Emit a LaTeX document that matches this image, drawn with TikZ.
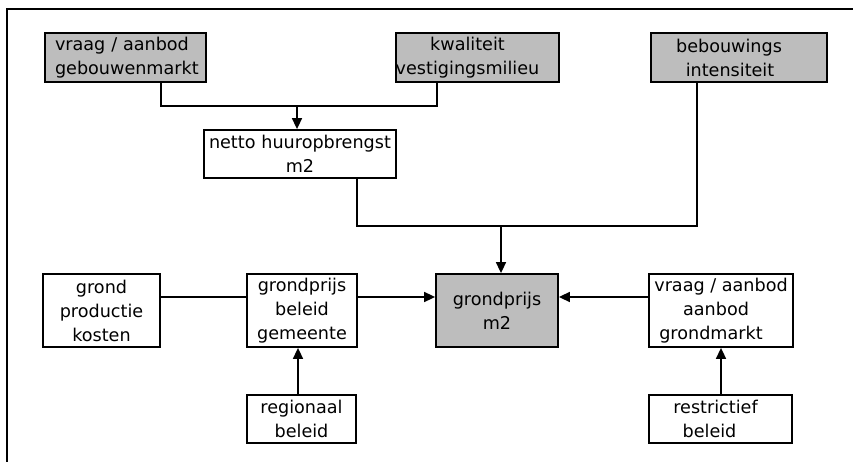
\documentclass[tikz,border=0pt]{standalone}
\usepackage{fontspec}
\setmainfont{DejaVu Sans}
\usetikzlibrary{arrows.meta}
\tikzset{
  box/.style={draw=black, line width=1.8pt, rectangle, inner sep=0pt, align=center,
    font=\fontsize{17.6}{24}\selectfont},
  shaded/.style={box, fill=black!26},
  conn/.style={line width=1.6pt},
  arr/.style={conn, -{Triangle[length=11pt,width=10pt]}},
  frameline/.style={line width=1.8pt}
}
\begin{document}
\begin{tikzpicture}[x=1pt,y=-1pt]
\useasboundingbox (0,0) rectangle (853,462);
% frame
\coordinate (f0) at (7,9);
\coordinate (f1) at (853,9);
\coordinate (f2) at (7,462);
\draw[frameline] (f2) -- (f0) -- (f1);
% top row
\node[shaded, minimum width=161, minimum height=49, text width=141, align=left] (b1) at (125.5,57.5) {vraag / aanbod\\gebouwenmarkt};
\node[shaded, minimum width=163, minimum height=49] (b2) at (477.5,57.5) {\hspace*{-20pt}kwaliteit\\\hspace*{-20pt}vestigingsmilieu};
\node[shaded, minimum width=176, minimum height=49] (b3) at (739,57.5) {\hspace*{-20pt}bebouwings\\\hspace*{-18pt}intensiteit};
% middle
\node[box, minimum width=192, minimum height=48, text width=182, align=left] (b4) at (300,154) {netto huuropbrengst\\\makebox[182pt][c]{m2}};
% row 3
\node[box, minimum width=117, minimum height=73] (b6) at (101.5,310.5) {grond\\productie\\kosten};
\node[box, minimum width=110, minimum height=73] (b7) at (302,310.5) {grondprijs\\beleid\\gemeente};
\node[shaded, minimum width=122, minimum height=73] (b5) at (497,310.5) {grondprijs\\m2};
\node[box, minimum width=144, minimum height=73] (b8) at (721,310.5) {vraag / aanbod\\\hspace*{-10pt}aanbod\\\hspace*{-20pt}grondmarkt};
% bottom
\node[box, minimum width=109, minimum height=48] (b9) at (301.5,419) {regionaal\\beleid};
\node[box, minimum width=143, minimum height=48] (b10) at (720.5,419) {\hspace*{-10pt}restrictief\\\hspace*{-22pt}beleid};
% connectors top
\coordinate (j1a) at (161,106);
\coordinate (j1b) at (437,106);
\coordinate (j1) at (297,106);
\draw[conn] (b1.south -| j1a) -- (j1a) -- (j1b) -- (b2.south -| j1b);
\draw[arr] (j1) -- (b4.north -| j1);
\coordinate (j2a) at (357,226);
\coordinate (j2b) at (697,226);
\coordinate (j2) at (501,226);
\draw[conn] (b4.south -| j2a) -- (j2a) -- (j2b) -- (b3.south -| j2b);
\draw[arr] (j2) -- (b5.north -| j2);
% row 3 connectors
\coordinate (h1) at (0,297);
\draw[conn] (b6.east |- h1) -- (b7.west |- h1);
\draw[arr] (b7.east |- h1) -- (b5.west |- h1);
\draw[arr] (b8.west |- h1) -- (b5.east |- h1);
% bottom connectors
\coordinate (v1) at (298,0);
\coordinate (v2) at (721,0);
\draw[arr] (b9.north -| v1) -- (b7.south -| v1);
\draw[arr] (b10.north -| v2) -- (b8.south -| v2);
\end{tikzpicture}
\end{document}
